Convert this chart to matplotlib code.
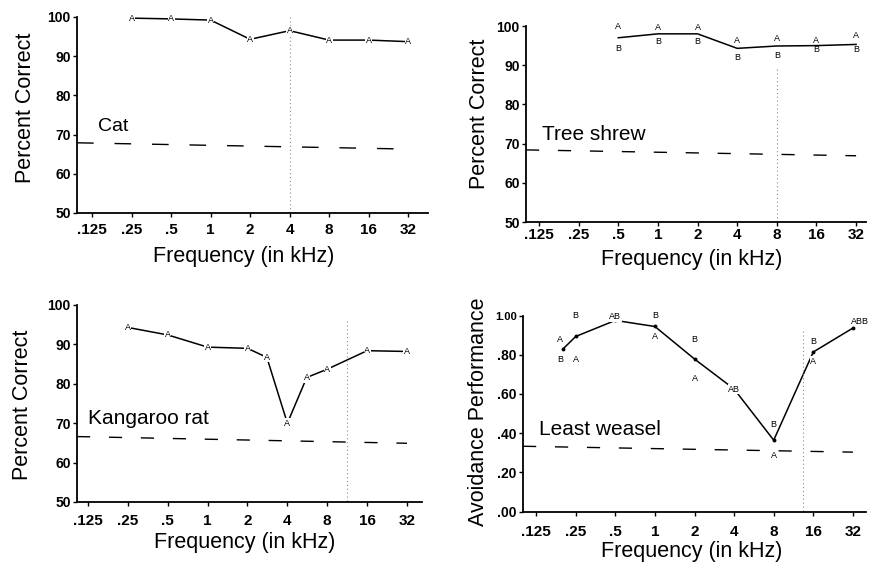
import matplotlib
matplotlib.use('Agg')
import matplotlib.pyplot as plt

plt.rcParams['font.family'] = ['Liberation Sans', 'DejaVu Sans']
plt.rcParams['lines.scale_dashes'] = False

tick_freqs = [0.125, 0.25, 0.5, 1, 2, 4, 8, 16, 32]
tick_labels = ['.125', '.25', '.5', '1', '2', '4', '8', '16', '32']

# cat
cat_freqs = [0.25, 0.5, 1, 2, 4, 8, 16, 32]
cat_pct = [99.7, 99.5, 99.2, 94.3, 96.5, 94.1, 94.1, 93.7]
cat_chance = [67.9, 66.3]

# tree shrew (line + animal A / animal B)
shrew_freqs = [0.5, 1, 2, 4, 8, 16, 32]
shrew_pct = [97.0, 98.0, 98.0, 94.3, 94.9, 95.0, 95.3]
shrew_a = [99.8, 99.6, 99.6, 96.2, 96.7, 96.2, 97.5]
shrew_b = [94.3, 96.0, 96.0, 92.0, 92.6, 93.9, 93.9]
shrew_chance = [68.4, 66.9]

# kangaroo rat
rat_freqs = [0.25, 0.5, 1, 2, 2.8, 4, 5.6, 8, 16, 32]
rat_pct = [94.3, 92.4, 89.3, 89.0, 86.7, 70.0, 81.6, 83.7, 88.4, 88.2]
rat_chance = [66.6, 64.9]

# least weasel
weasel_freqs = [0.2, 0.25, 0.5, 1, 2, 4, 8, 16, 32]
weasel_perf = [0.829, 0.893, 0.975, 0.944, 0.778, 0.625, 0.364, 0.814, 0.936]
weasel_lbl_text = ['A', 'B', 'B', 'A', 'AB', 'B', 'A', 'B', 'A', 'AB', 'B', 'A', 'B', 'A', 'ABB']
weasel_lbl_freq = [0.19, 0.19, 0.25, 0.25, 0.5, 1, 1, 2, 2, 4, 8, 8, 16, 16, 36]
weasel_lbl_val = [0.88, 0.778, 0.998, 0.778, 0.995, 0.998, 0.893, 0.876, 0.68,
                  0.625, 0.444, 0.286, 0.868, 0.766, 0.97]
weasel_chance = [0.333, 0.303]

# vertical dotted marks
cat_vline = 4
shrew_vline = 8
rat_vline = 11.3
weasel_vline = 13.4

fig = plt.figure(figsize=(8.72, 5.69), dpi=100)

ax1 = fig.add_axes([0.0883, 0.6257, 0.4025, 0.3445])
ax2 = fig.add_axes([0.6032, 0.6098, 0.3899, 0.3445])
ax3 = fig.add_axes([0.0883, 0.1178, 0.3956, 0.3462])
ax4 = fig.add_axes([0.5998, 0.1010, 0.3933, 0.3445])


def setup(ax, xlim, ylim, yticks, ylabels, ylabel, ylab_xy, xlab_xy, xpad):
    ax.set_xscale('log', base=2)
    ax.set_xlim(2 ** xlim[0], 2 ** xlim[1])
    ax.set_ylim(*ylim)
    ax.set_xticks(tick_freqs)
    ax.set_xticklabels(tick_labels, fontsize=11, fontweight='bold')
    ax.minorticks_off()
    ax.set_yticks(yticks)
    ax.set_yticklabels(ylabels, fontsize=10, fontweight='bold')
    for s in ['top', 'right']:
        ax.spines[s].set_visible(False)
    for s in ['left', 'bottom']:
        ax.spines[s].set_linewidth(1.3)
    ax.tick_params(axis='x', direction='out', length=3, width=1, pad=xpad)
    ax.tick_params(axis='y', direction='out', length=3, width=1, pad=1.5)
    ax.set_ylabel(ylabel, fontsize=15.5, va='center')
    ax.yaxis.set_label_coords(*ylab_xy)
    ax.set_xlabel('Frequency (in kHz)', fontsize=15.5, va='center')
    ax.xaxis.set_label_coords(*xlab_xy)


def letter(ax, x, y, s, bg=True):
    kw = dict(ha='center', va='center', fontsize=6.5, clip_on=False, zorder=4)
    if bg:
        kw['bbox'] = dict(facecolor='white', edgecolor='none', pad=0.4)
    ax.text(x, y, s, **kw)


pct_ticks = [50, 60, 70, 80, 90, 100]
pct_labels = ['50', '60', '70', '80', '90', '100']

# --- cat
setup(ax1, (-3.38, 5.5), (50, 100), pct_ticks, pct_labels, 'Percent Correct',
      (-0.148, 0.536), (0.476, -0.222), 4)
ax1.plot(cat_freqs, cat_pct, color='k', lw=1.1, clip_on=False)
for f, v in zip(cat_freqs, cat_pct):
    letter(ax1, f, v, 'A')
ax1.plot([2 ** -3.38, 32], cat_chance, color='k', lw=1, dashes=(12, 15))
ax1.plot([cat_vline, cat_vline], [100, 50], color='0.55', lw=0.8, dashes=(0.8, 2))
ax1.text(2 ** -2.86, 72, 'Cat', fontsize=14, va='center', ha='left')

# --- tree shrew
setup(ax2, (-3.33, 5.25), (50, 100), pct_ticks, pct_labels, 'Percent Correct',
      (-0.138, 0.554), (0.488, -0.19), 1.5)
ax2.plot(shrew_freqs, shrew_pct, color='k', lw=1.1, clip_on=False)
for f, a, b in zip(shrew_freqs, shrew_a, shrew_b):
    letter(ax2, f, a, 'A', bg=False)
    letter(ax2, f, b, 'B', bg=False)
ax2.plot([2 ** -3.33, 32], shrew_chance, color='k', lw=1, dashes=(9.5, 13.5))
ax2.plot([shrew_vline, shrew_vline], [89, 50], color='0.55', lw=0.8, dashes=(0.8, 2))
ax2.text(2 ** -2.92, 72.2, 'Tree shrew', fontsize=15, va='center', ha='left')

# --- kangaroo rat
setup(ax3, (-3.275, 5.375), (50, 100), pct_ticks, pct_labels, 'Percent Correct',
      (-0.159, 0.492), (0.487, -0.205), 6)
ax3.plot(rat_freqs, rat_pct, color='k', lw=1.1, clip_on=False)
for f, v in zip(rat_freqs, rat_pct):
    letter(ax3, f, v, 'A')
ax3.plot([2 ** -3.275, 32], rat_chance, color='k', lw=1, dashes=(9.5, 13.5))
ax3.plot([rat_vline, rat_vline], [96, 50], color='0.55', lw=0.8, dashes=(0.8, 2))
ax3.text(2 ** -3.0, 71.2, 'Kangaroo rat', fontsize=15, va='center', ha='left')

# --- least weasel
setup(ax4, (-3.33, 5.33), (0, 1.0), [0, 0.2, 0.4, 0.6, 0.8, 1.0],
      ['.00', '.20', '.40', '.60', '.80', '1.00'], 'Avoidance Performance',
      (-0.131, 0.51), (0.493, -0.203), 6.5)
ax4.get_yticklabels()[-1].set_fontsize(8)
ax4.plot(weasel_freqs, weasel_perf, color='k', lw=1.1, marker='o', ms=1.8, clip_on=False)
for f, v, s in zip(weasel_lbl_freq, weasel_lbl_val, weasel_lbl_text):
    letter(ax4, f, v, s)
ax4.plot([2 ** -3.33, 32], weasel_chance, color='k', lw=1, dashes=(9.5, 13.5))
ax4.plot([weasel_vline, weasel_vline], [0.92, 0], color='0.55', lw=0.8, dashes=(0.8, 2))
ax4.text(2 ** -2.92, 0.418, 'Least weasel', fontsize=15, va='center', ha='left')

fig.savefig('out.png', dpi=100)
